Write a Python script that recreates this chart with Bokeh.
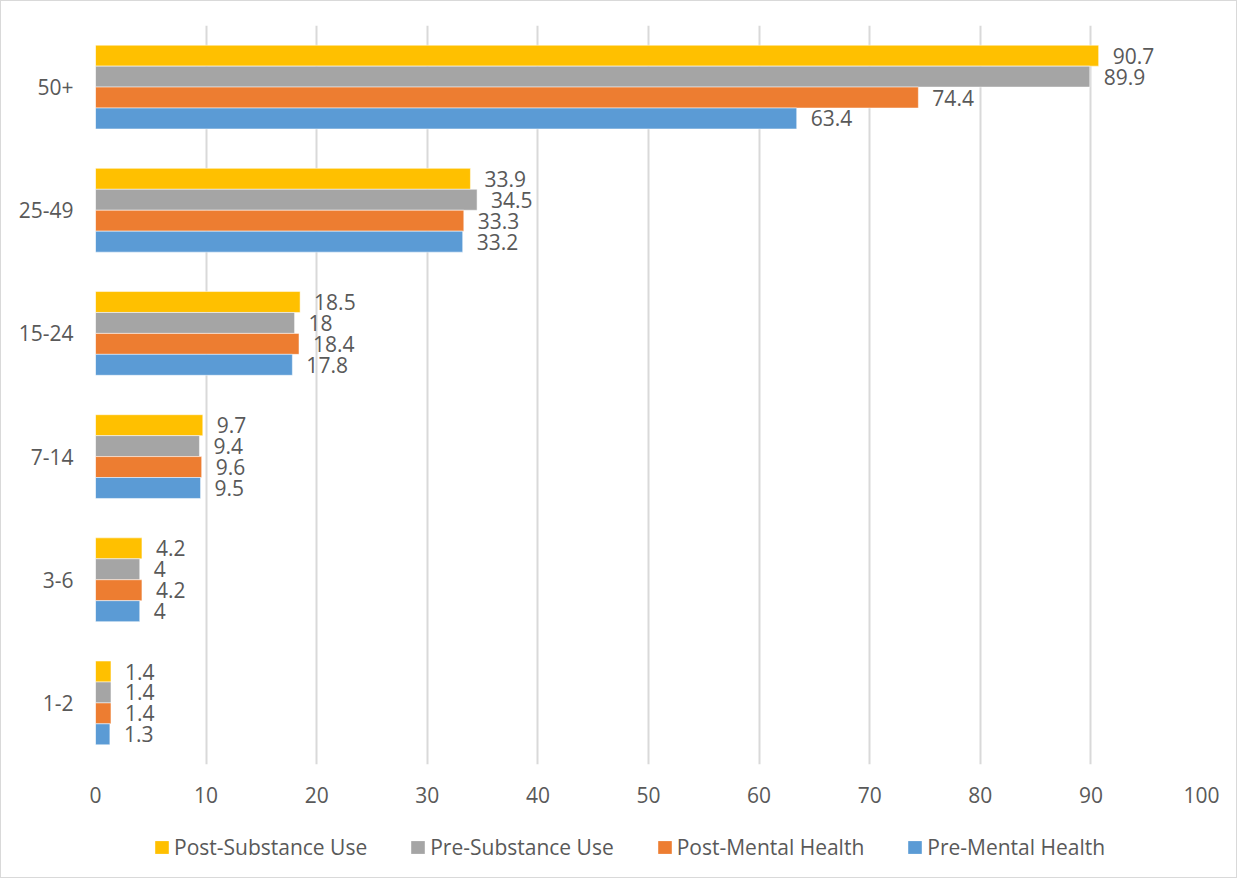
from bokeh.plotting import figure
from bokeh.layouts import column
from bokeh.models import ColumnDataSource, FixedTicker, Legend, LegendItem, FactorRange, Range1d
from bokeh.transform import dodge
from bokeh.core.properties import value
from bokeh.embed import file_html
from bokeh.resources import INLINE

categories = ["1-2", "3-6", "7-14", "15-24", "25-49", "50+"]
post_substance = [1.4, 4.2, 9.7, 18.5, 33.9, 90.7]
pre_substance = [1.4, 4.0, 9.4, 18.0, 34.5, 89.9]
post_mental = [1.4, 4.2, 9.6, 18.4, 33.3, 74.4]
pre_mental = [1.3, 4.0, 9.5, 17.8, 33.2, 63.4]
x_ticks = [0, 10, 20, 30, 40, 50, 60, 70, 80, 90, 100]

series = [
    ("Post-Substance Use", post_substance, "#FFC000", 0.255),
    ("Pre-Substance Use", pre_substance, "#A5A5A5", 0.085),
    ("Post-Mental Health", post_mental, "#ED7D31", -0.085),
    ("Pre-Mental Health", pre_mental, "#5B9BD5", -0.255),
]

FONT = "Open Sans"
TXT = "#595959"
FS = "21px"
W = 1235

p = figure(
    width=W, height=826,
    y_range=FactorRange(factors=categories, range_padding=0),
    x_range=Range1d(0, 100),
    output_backend="svg", toolbar_location=None,
    min_border_left=94, min_border_right=35, min_border_top=24, min_border_bottom=63,
)
p.outline_line_color = None
p.background_fill_color = "white"
p.border_fill_color = "white"

p.xgrid.ticker = FixedTicker(ticks=x_ticks)
p.xgrid.grid_line_color = "#D9D9D9"
p.xgrid.grid_line_width = 2
p.ygrid.grid_line_color = None

p.xaxis.ticker = FixedTicker(ticks=x_ticks)
p.xaxis.axis_line_color = None
p.xaxis.major_tick_line_color = None
p.xaxis.minor_tick_line_color = None
p.xaxis.major_label_standoff = 16
p.xaxis.major_label_text_font = FONT
p.xaxis.major_label_text_font_size = FS
p.xaxis.major_label_text_color = TXT

p.yaxis.axis_line_color = None
p.yaxis.major_tick_line_color = None
p.yaxis.major_tick_out = 0
p.yaxis.minor_tick_line_color = None
p.yaxis.major_label_standoff = 22
p.yaxis.major_label_text_font = FONT
p.yaxis.major_label_text_font_size = FS
p.yaxis.major_label_text_color = TXT

# Legend strip below the chart (its frame is aligned with the chart's frame)
lg = figure(
    width=W, height=50, x_range=Range1d(-20, -10), y_range=FactorRange(factors=categories),
    output_backend="svg", toolbar_location=None, x_axis_type=None, y_axis_type=None,
    min_border_left=0, min_border_right=0, min_border_top=0, min_border_bottom=0,
)
lg.outline_line_color = None
lg.grid.grid_line_color = None
lg.background_fill_color = "white"
lg.border_fill_color = "white"

items = []
for name, vals, color, off in series:
    src = ColumnDataSource(dict(cat=categories, v=vals, lbl=[f"{v:g}" for v in vals]))
    p.hbar(y=dodge("cat", off, range=p.y_range), right="v", left=0, height=0.17,
           source=src, fill_color=color, line_color="white", line_alpha=0.5, line_width=1)
    p.text(x="v", y=dodge("cat", off, range=p.y_range), text="lbl", source=src,
           x_offset=14, text_align="left", text_baseline="middle",
           text_font=value(FONT), text_font_size=FS, text_color=TXT)
    r = lg.hbar(y="cat", right="v", left=0, height=0, source=src,
                fill_color=color, line_color=None)
    items.append(LegendItem(label=name, renderers=[r]))

legend = Legend(items=items, orientation="horizontal", location=(58, 16),
                glyph_width=17, glyph_height=16, label_height=21, label_standoff=4,
                spacing=42, padding=0, margin=0,
                border_line_color=None, background_fill_alpha=0,
                label_text_font=FONT, label_text_font_size=FS, label_text_color=TXT)
lg.add_layout(legend, "center")

layout = column(p, lg, spacing=0)
layout.styles = {"border": "1px solid #D9D9D9"}

open("out.html", "w").write(file_html(layout, INLINE))
